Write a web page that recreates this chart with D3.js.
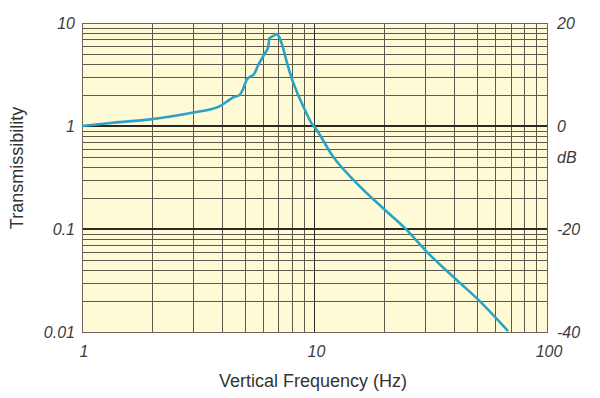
<!DOCTYPE html>
<html>
<head>
<meta charset="utf-8">
<script src="https://cdn.jsdelivr.net/npm/d3@7"></script>
<style>
  body { margin: 0; background: #fff; }
  svg { display: block; }
</style>
</head>
<body>
<div id="chart"></div>
<script>
// frequency (Hz) and transmissibility
const freq = [1, 1.36, 1.96, 3.01, 3.92, 4.19, 4.48, 4.75, 4.91, 5.11, 5.28, 5.49, 5.73, 6.12, 6.33, 6.39, 6.65, 6.88, 7.01, 7.30, 7.59, 7.98, 8.51, 9.10, 9.72, 10, 12.05, 14.7, 20.1, 24.5, 30.4, 40.9, 50.7, 68];
const trans = [1.0, 1.077, 1.16, 1.35, 1.56, 1.72, 1.90, 1.99, 2.24, 2.80, 3.01, 3.18, 3.91, 5.08, 5.89, 7.10, 7.48, 7.82, 7.48, 5.89, 4.21, 2.90, 2.00, 1.43, 1.06, 0.98, 0.50, 0.30, 0.153, 0.102, 0.060, 0.032, 0.0205, 0.0102];

const xTicks = [1, 10, 100];
const yTicks = [0.01, 0.1, 1, 10];
const yTickLabels = ['0.01', '0.1', '1', '10'];
const dbTicks = [-40, -20, 0, 20];

const width = 600;
const height = 398;
const plotLeft = 82, plotRight = 547, plotTop = 23, plotBottom = 332;

const svg = d3.select('#chart')
  .append('svg')
  .attr('width', width)
  .attr('height', height);

const x = d3.scaleLog().domain([1, 100]).range([plotLeft, plotRight]);
const y = d3.scaleLog().domain([0.01, 10]).range([plotBottom, plotTop]);
const yDb = d3.scaleLinear().domain([-40, 20]).range([plotBottom, plotTop]);

const snap = v => Math.round(v) + 0.5;

// plot background
svg.append('rect')
  .attr('x', plotLeft)
  .attr('y', plotTop)
  .attr('width', plotRight - plotLeft)
  .attr('height', plotBottom - plotTop)
  .attr('fill', '#fffad6');

const grid = svg.append('g').attr('shape-rendering', 'crispEdges');

// minor gridlines
const xMinor = x.ticks().filter(d => xTicks.indexOf(d) < 0);
const yMinor = y.ticks().filter(d => yTicks.indexOf(d) < 0);

grid.selectAll('.vx')
  .data(xMinor)
  .enter().append('line')
  .attr('x1', d => snap(x(d))).attr('x2', d => snap(x(d)))
  .attr('y1', plotTop).attr('y2', plotBottom)
  .attr('stroke', '#5c5a4c')
  .attr('stroke-width', 1);

grid.selectAll('.hy')
  .data(yMinor)
  .enter().append('line')
  .attr('y1', d => snap(y(d))).attr('y2', d => snap(y(d)))
  .attr('x1', plotLeft).attr('x2', plotRight)
  .attr('stroke', '#5c5a4c')
  .attr('stroke-width', 1);

// decade lines
grid.selectAll('.hmaj')
  .data([0.1, 1])
  .enter().append('line')
  .attr('y1', d => y(d)).attr('y2', d => y(d))
  .attr('x1', plotLeft).attr('x2', plotRight)
  .attr('stroke', '#2a2a22')
  .attr('stroke-width', 1.6);

grid.append('line')
  .attr('x1', x(10)).attr('x2', x(10))
  .attr('y1', plotTop).attr('y2', plotBottom)
  .attr('stroke', '#2a2a22')
  .attr('stroke-width', 1.6);

// frame
grid.append('rect')
  .attr('x', plotLeft + 0.5)
  .attr('y', plotTop + 0.5)
  .attr('width', plotRight - plotLeft)
  .attr('height', plotBottom - plotTop)
  .attr('fill', 'none')
  .attr('stroke', '#6a675a')
  .attr('stroke-width', 1.2);

// curve
svg.append('clipPath').attr('id', 'clip')
  .append('rect')
  .attr('x', plotLeft).attr('y', plotTop)
  .attr('width', plotRight - plotLeft).attr('height', plotBottom - plotTop);

const line = d3.line()
  .x(d => x(d[0]))
  .y(d => y(d[1]))
  .curve(d3.curveMonotoneX);

svg.append('path')
  .datum(freq.map((f, i) => [f, trans[i]]))
  .attr('clip-path', 'url(#clip)')
  .attr('d', line)
  .attr('fill', 'none')
  .attr('stroke', '#2aa3c7')
  .attr('stroke-width', 2.6)
  .attr('stroke-linejoin', 'round');

// tick labels
const tickFont = "'Liberation Sans', Arial, sans-serif";
const tickColor = '#3c3c3c';

svg.append('g').selectAll('text')
  .data(yTicks)
  .enter().append('text')
  .attr('x', plotLeft - 7)
  .attr('y', d => y(d) + 6)
  .attr('text-anchor', 'end')
  .attr('font-family', tickFont)
  .attr('font-style', 'italic')
  .attr('font-size', 16)
  .attr('fill', tickColor)
  .text((d, i) => yTickLabels[i]);

svg.append('g').selectAll('text')
  .data(xTicks)
  .enter().append('text')
  .attr('x', d => x(d) + 2)
  .attr('y', 357)
  .attr('text-anchor', 'middle')
  .attr('font-family', tickFont)
  .attr('font-style', 'italic')
  .attr('font-size', 16)
  .attr('fill', tickColor)
  .text(d => d);

svg.append('g').selectAll('text')
  .data(dbTicks)
  .enter().append('text')
  .attr('x', plotRight + 10)
  .attr('y', d => yDb(d) + 6)
  .attr('text-anchor', 'start')
  .attr('font-family', tickFont)
  .attr('font-style', 'italic')
  .attr('font-size', 16)
  .attr('fill', tickColor)
  .text(d => d);

svg.append('text')
  .attr('x', plotRight + 10)
  .attr('y', 163)
  .attr('font-family', tickFont)
  .attr('font-style', 'italic')
  .attr('font-size', 16)
  .attr('fill', tickColor)
  .text('dB');

// axis titles
svg.append('text')
  .attr('x', 313)
  .attr('y', 387)
  .attr('text-anchor', 'middle')
  .attr('font-family', tickFont)
  .attr('font-size', 18)
  .attr('fill', '#333')
  .text('Vertical Frequency (Hz)');

svg.append('text')
  .attr('transform', 'translate(23,' + 168 + ') rotate(-90)')
  .attr('text-anchor', 'middle')
  .attr('font-family', tickFont)
  .attr('font-size', 18)
  .attr('fill', '#333')
  .text('Transmissibility');
</script>
</body>
</html>
